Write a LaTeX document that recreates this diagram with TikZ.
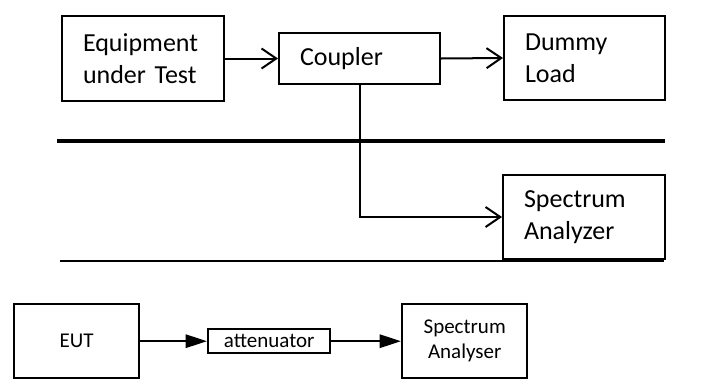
\documentclass[tikz,border=0pt]{standalone}
\usepackage{fontspec}
\setmainfont{Carlito}
\usetikzlibrary{arrows.meta,positioning}
\tikzstyle{block} = [rectangle, draw, line width=1.5pt, anchor=north west, inner xsep=15.75pt, inner ysep=0pt, text width=90pt, align=left, font=\fontsize{19.5}{24}\selectfont]
\tikzstyle{smallblock} = [rectangle, draw, line width=1.8pt, anchor=north west, inner sep=0pt, align=center, font=\fontsize{15.75}{18.75}\selectfont]
\tikzstyle{barb} = [line width=1.5pt, -{Straight Barb[length=11pt,width=15pt]}]
\tikzstyle{tri} = [line width=1.5pt, -{Triangle[length=16pt,width=10pt]}]

\begin{document}
\begin{tikzpicture}[x=0.75pt, y=-0.75pt]
\useasboundingbox (0,0) rectangle (705,379);
% Coupler set-up
\node[block, minimum height=63.75pt] (eut) at (61,15) {Equipment\\under Test};
\node[block, text width=89.25pt, minimum height=38.25pt] (coupler) at (278,32) {Coupler};
\node[block, text width=89.25pt, minimum height=63pt] (load) at (503,15) {Dummy\\Load};
\node[block, minimum height=63pt] (analyzer) at (502,174) {Spectrum\\Analyzer};

\draw[barb] (eut.east) -- (coupler.west);
\draw[barb] (coupler.east) -- (load.west);
\draw[barb] (coupler.south) |- (analyzer.west);

% Separators
\draw[line width=3pt] (57,141) -- (665,141);
\draw[line width=1.2pt] (60,261) -- (664,261);

% Attenuator set-up
\node[smallblock, minimum width=93.75pt, minimum height=55.5pt] (eutb) at (13,303) {EUT};
\node[smallblock, minimum width=91.5pt, minimum height=18pt] (atten) at (207,328) {attenuator};
\node[smallblock, minimum width=93.75pt, minimum height=55.5pt] (analyser) at (401,303) {Spectrum\\Analyser};

\draw[tri] (eutb.east) -- (atten.west);
\draw[tri] (atten.east) -- (analyser.west);
\end{tikzpicture}
\end{document}
